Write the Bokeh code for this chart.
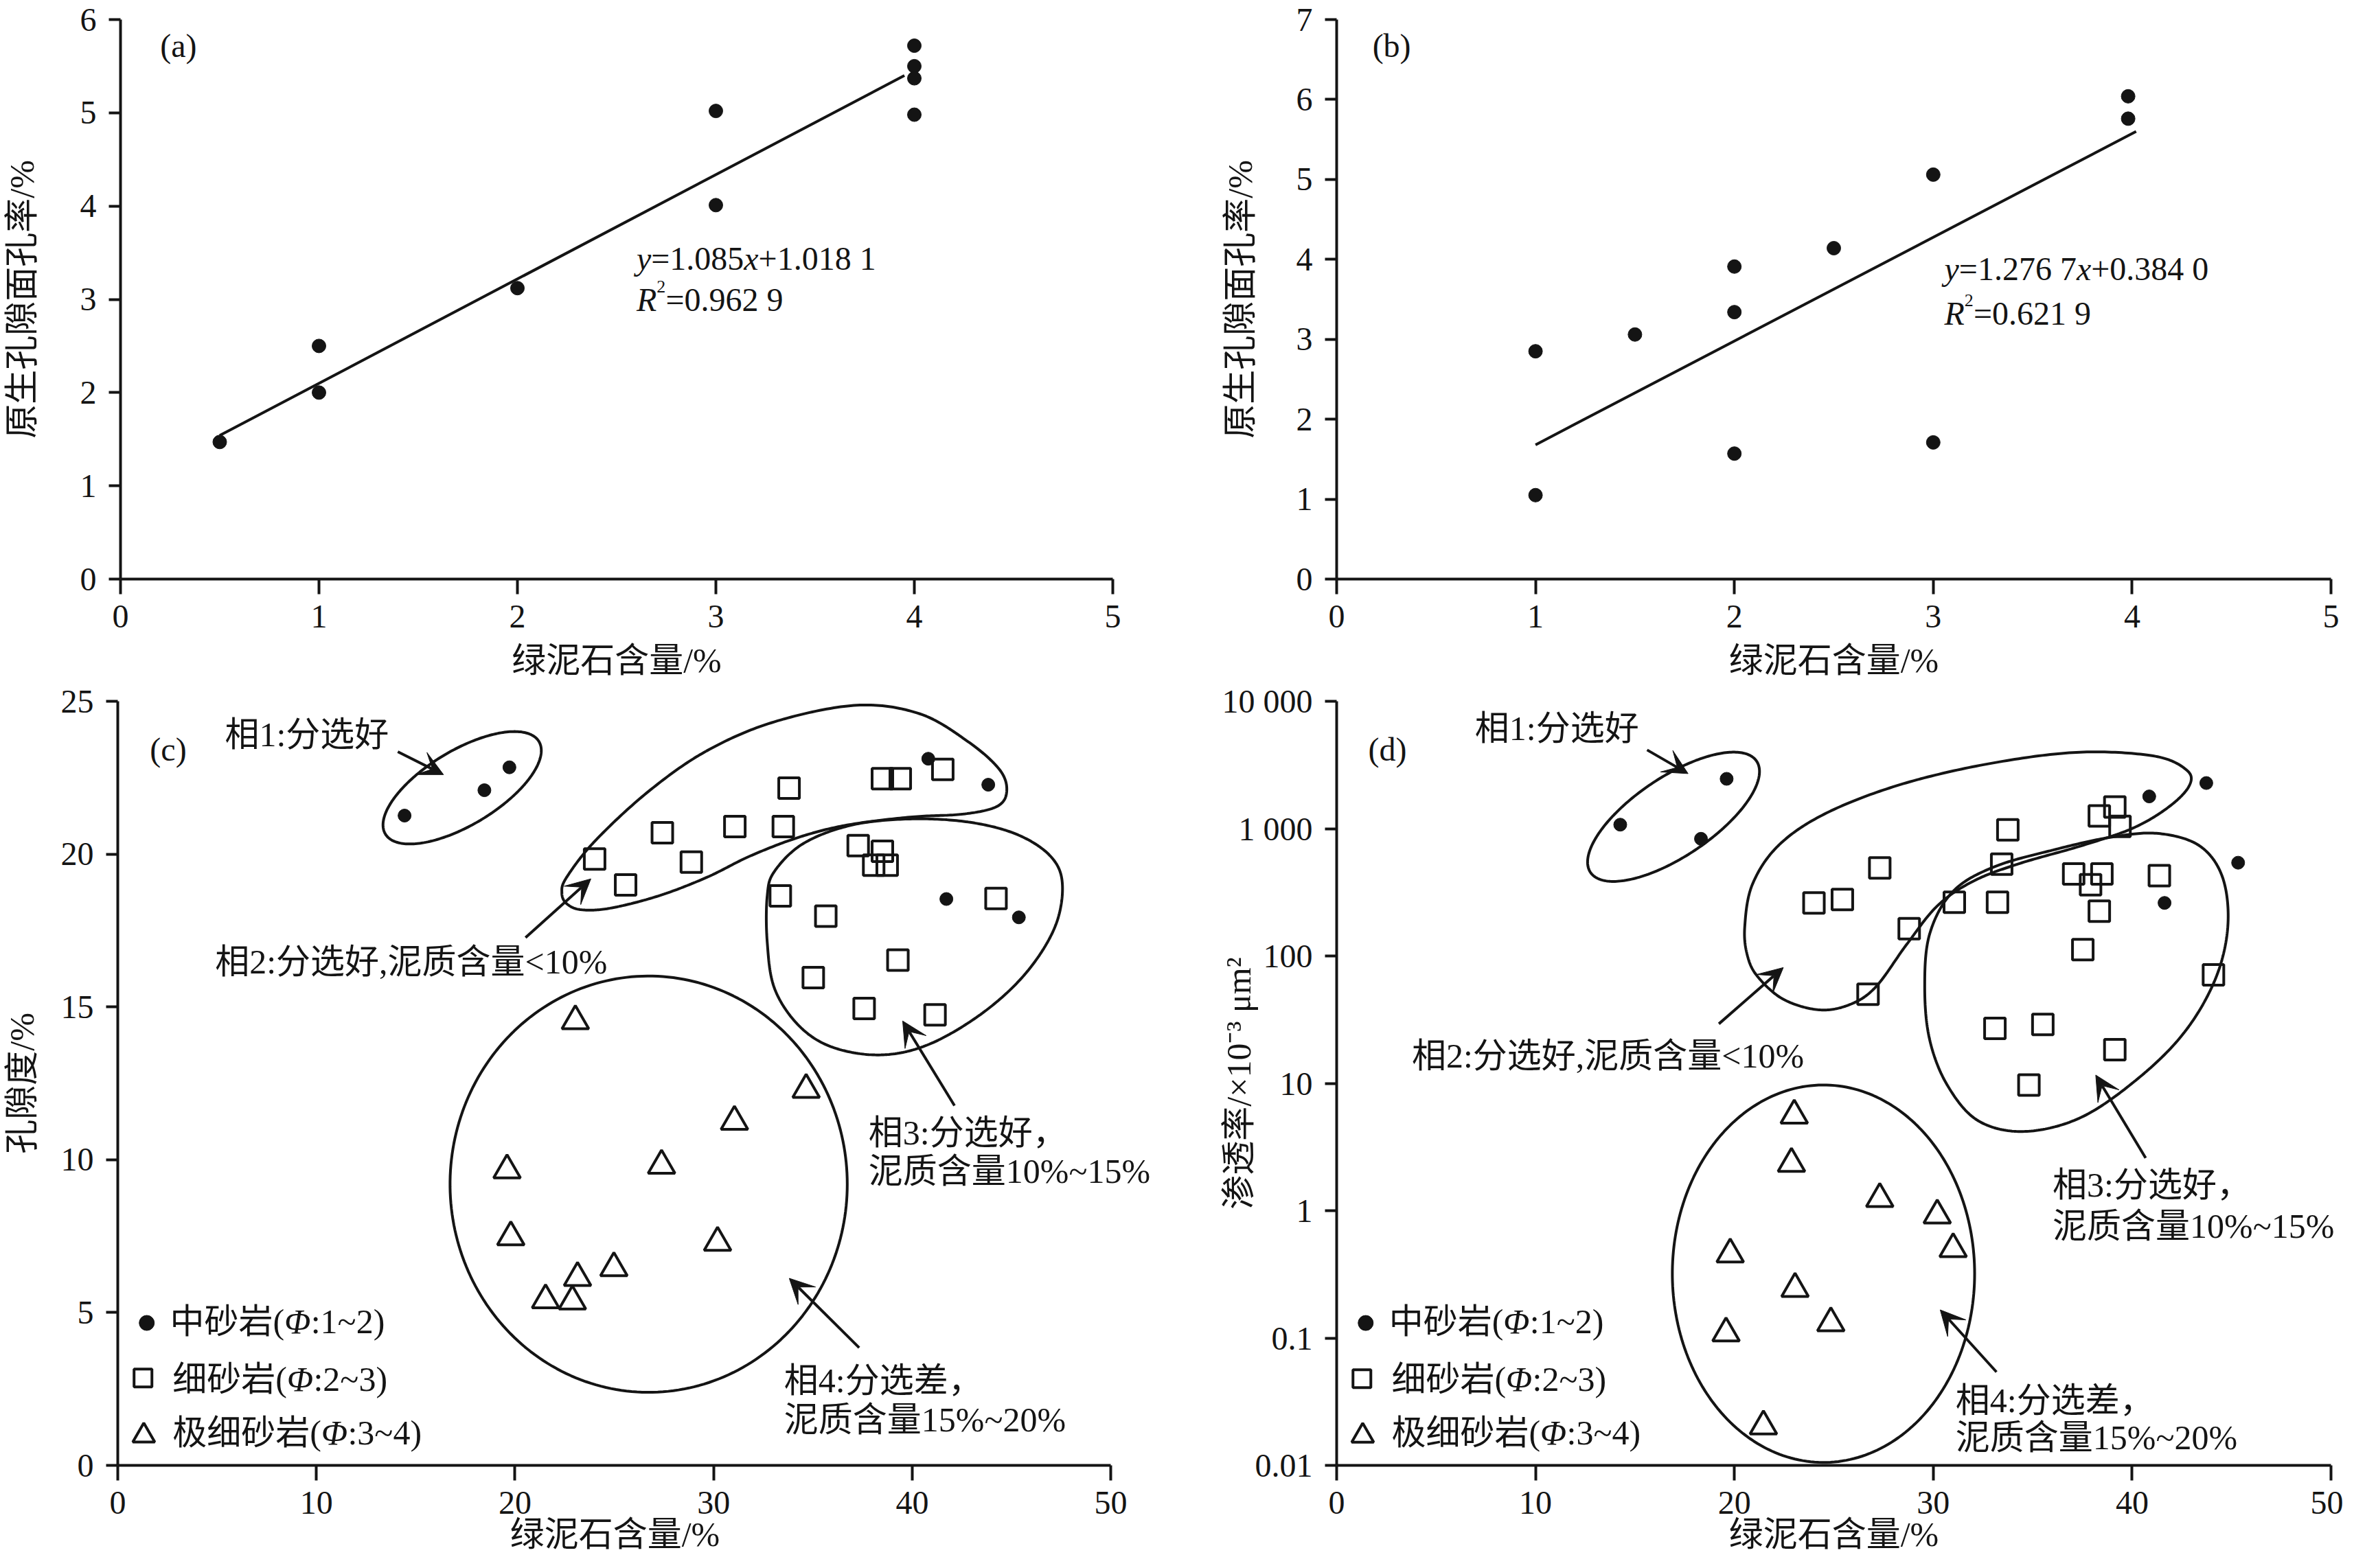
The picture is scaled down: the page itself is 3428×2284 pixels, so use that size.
import numpy as np
from bokeh.plotting import figure
from bokeh.layouts import column, row
from bokeh.models import (Range1d, FixedTicker, Label, Arrow, VeeHead, Title,
                          CustomJSTickFormatter)
from bokeh.embed import file_html
from bokeh.resources import INLINE

# ------------------------------------------------------------------ data
# panel (a)
a_x = [0.5, 1.0, 1.0, 2.0, 3.0, 3.0, 4.0, 4.0, 4.0, 4.0]
a_y = [1.47, 2.50, 2.00, 3.12, 5.02, 4.01, 5.72, 5.50, 5.37, 4.98]
a_fit_x = [0.5, 3.95]
a_fit_y = [1.54, 5.40]
a_xticks = [0, 1, 2, 3, 4, 5]
a_yticks = [0, 1, 2, 3, 4, 5, 6]

# panel (b)
b_x = [1.0, 1.0, 1.5, 2.0, 2.0, 2.0, 2.5, 3.0, 3.0, 3.98, 3.98]
b_y = [2.85, 1.05, 3.06, 3.91, 3.34, 1.57, 4.14, 5.06, 1.71, 6.04, 5.76]
b_fit_x = [1.0, 4.02]
b_fit_y = [1.68, 5.60]
b_xticks = [0, 1, 2, 3, 4, 5]
b_yticks = [0, 1, 2, 3, 4, 5, 6, 7]

# panel (c)  porosity vs chlorite
c_med_x = [14.44, 18.46, 19.72, 40.81, 43.83, 41.72, 45.37]
c_med_y = [21.26, 22.09, 22.84, 23.12, 22.27, 18.53, 17.93]
c_fine_x = [24.01, 25.57, 27.42, 28.88, 31.07, 33.51, 33.80, 33.36, 37.28, 38.50,
            38.06, 38.74, 38.50, 39.40, 41.54, 44.22, 35.65, 35.02, 39.28, 37.58, 41.15]
c_fine_y = [19.84, 18.99, 20.70, 19.74, 20.90, 20.90, 22.16, 18.63, 20.28, 20.09,
            19.64, 19.64, 22.47, 22.47, 22.77, 18.55, 17.97, 15.96, 16.53, 14.95, 14.74]
c_vf_x = [23.04, 34.66, 31.05, 19.60, 27.38, 19.79, 30.20, 24.98, 23.15, 21.54, 22.89]
c_vf_y = [14.54, 12.29, 11.25, 9.66, 9.81, 7.47, 7.29, 6.46, 6.14, 5.41, 5.37]
c_xticks = [0, 10, 20, 30, 40, 50]
c_yticks = [0, 5, 10, 15, 20, 25]

# panel (d)  permeability vs chlorite
d_med_x = [14.26, 18.32, 19.61, 40.86, 43.73, 45.33, 41.63]
d_med_y = [1074, 832, 2460, 1790, 2280, 540, 261]
d_fine_x = [24.00, 25.43, 27.31, 28.79, 26.72, 31.06, 33.23, 33.44, 33.75, 37.06, 37.91, 38.48,
            38.35, 39.13, 39.39, 38.35, 37.52, 41.37, 44.09, 33.10, 35.51, 39.13, 34.81]
d_fine_y = [261, 278, 491, 164, 50, 264, 264, 526, 977, 441, 363, 441,
            1260, 1480, 1040, 225, 112, 427, 71, 27, 29, 18.4, 9.7]
d_vf_x = [23.01, 22.87, 27.31, 30.20, 31.00, 19.79, 23.05, 24.85, 19.58, 21.46]
d_vf_y = [5.6, 2.34, 1.24, 0.92, 0.50, 0.455, 0.244, 0.131, 0.109, 0.0203]
d_xticks = [0, 10, 20, 30, 40, 50]
d_yticks = [0.01, 0.1, 1, 10, 100, 1000, 10000]
d_ytick_labels = ["0.01", "0.1", "1", "10", "100", "1 000", "10 000"]

# texts
x_title = "绿泥石含量/%"
a_ytitle = "原生孔隙面孔率/%"
c_ytitle = "孔隙度/%"
d_ytitle = "渗透率/×10⁻³ μm²"
facies = ["相1:分选好", "相2:分选好,泥质含量<10%", "相3:分选好，", "泥质含量10%~15%",
          "相4:分选差，", "泥质含量15%~20%"]
legend_names = [("中砂岩(", ":1~2)"), ("细砂岩(", ":2~3)"), ("极细砂岩(", ":3~4)")]

# facies outlines (annotation shapes) -------------------------------
# (c)
c_f1 = dict(c=(17.34, 22.17), A=(3.87, 1.51), B=(0.95, -1.05))
c_f4 = dict(c=(26.73, 9.2), A=(10.0, 0.0), B=(0.0, 6.81))
c_f2_x = [22.36, 22.6, 24.06, 26.74, 29.66, 33.07, 37.21, 40.38, 42.81, 44.39, 44.76, 44.27,
          42.57, 39.89, 36.72, 34.29, 31.85, 29.66, 27.22, 24.79, 23.33, 22.6]
c_f2_y = [18.73, 19.24, 20.45, 22.06, 23.38, 24.33, 24.87, 24.59, 23.68, 22.77, 22.06, 21.56,
          21.31, 21.21, 20.95, 20.55, 19.94, 19.24, 18.63, 18.23, 18.18, 18.38]
c_f3_x = [32.7, 33.07, 34.53, 36.96, 39.89, 42.81, 45.25, 46.95, 47.56, 47.19, 45.73, 43.54,
          40.86, 38.43, 35.99, 34.29, 33.07, 32.7]
c_f3_y = [18.63, 19.44, 20.35, 20.95, 21.15, 21.05, 20.65, 19.94, 19.03, 17.62, 16.11, 14.8,
          13.78, 13.43, 13.68, 14.39, 15.6, 17.12]
# (d)  (y as log10 of permeability)
d_f1 = dict(c=(16.94, 3.093), A=(4.18, 0.436), B=(1.1, -0.26))
d_f4 = dict(c=(24.48, -0.495), A=(7.6, 0.0), B=(0.0, 1.482))
d_f2_x = [20.52, 20.9, 22.2, 24.52, 28.14, 32.53, 37.19, 41.06, 42.74, 42.87, 41.84, 40.03,
          37.44, 34.34, 32.02, 30.21, 28.66, 27.11, 25.81, 24.26, 22.46, 21.16, 20.65]
d_f2_logk = [2.228, 2.56, 2.865, 3.114, 3.336, 3.502, 3.599, 3.571, 3.46, 3.336, 3.17, 3.003,
             2.865, 2.726, 2.588, 2.394, 2.09, 1.757, 1.619, 1.577, 1.66, 1.84, 2.006]
d_f3_x = [29.57, 29.82, 30.98, 33.05, 36.15, 38.99, 41.32, 43.39, 44.55, 44.81, 44.17, 42.61,
          40.29, 37.44, 34.6, 32.27, 30.72, 29.82]
d_f3_logk = [1.757, 2.173, 2.505, 2.699, 2.837, 2.934, 2.962, 2.865, 2.616, 2.228, 1.813, 1.397,
             1.037, 0.733, 0.622, 0.705, 0.982, 1.342]

# ------------------------------------------------------------------ style
FONT = "Liberation Serif, Noto Sans CJK SC"
BLK = "#141414"
TICK_FS = "48px"
LAB_FS = "50px"
TXT = 50
X_LABEL_STANDOFF = 16
X_AXLABEL_STANDOFF = 17     # top row (axis label)
X_TITLE_STANDOFF = -6       # bottom row (title used as axis label)

WID = {".": 0.25, "=": 0.564, "+": 0.564, " ": 0.25, "(": 0.333, ")": 0.333,
       ":": 0.278, "~": 0.541, "%": 0.833, "<": 0.564, ",": 0.25, "/": 0.278,
       "x": 0.444, "y": 0.444, "R": 0.611, "Φ": 0.77}


def text_w(s, size):
    w = 0.0
    for ch in s:
        if ord(ch) > 0x2E80:
            w += 1.0
        elif ch.isdigit():
            w += 0.5
        else:
            w += WID.get(ch, 0.5)
    return w * size


def rich(p, x, y, pieces, size, baseline="alphabetic"):
    off = 0.0
    for txt, italic, rise, scale in pieces:
        fs = size * scale
        p.add_layout(Label(x=x, y=y, x_offset=off, y_offset=rise, text=txt,
                           text_font=FONT, text_font_size=f"{fs:.0f}px",
                           text_font_style="italic" if italic else "normal",
                           text_baseline=baseline, text_align="left", text_color=BLK))
        off += text_w(txt, fs)


def label(p, x, y, txt, size=TXT, baseline="middle"):
    p.add_layout(Label(x=x, y=y, text=txt, text_font=FONT, text_font_size=f"{size}px",
                       text_baseline=baseline, text_align="left", text_color=BLK))


def arrow(p, xs, ys, xe, ye):
    p.add_layout(Arrow(end=VeeHead(size=36, fill_color=BLK, line_color=BLK, line_width=1),
                       x_start=xs, y_start=ys, x_end=xe, y_end=ye,
                       line_width=4, line_color=BLK))


def closed_spline(px, py, n=24):
    P = np.column_stack([px, py]).astype(float)
    m = len(P)
    t = np.linspace(0, 1, n, endpoint=False)[:, None]
    segs = []
    for i in range(m):
        p0, p1, p2, p3 = P[(i - 1) % m], P[i], P[(i + 1) % m], P[(i + 2) % m]
        segs.append(0.5 * (2 * p1 + (-p0 + p2) * t + (2 * p0 - 5 * p1 + 4 * p2 - p3) * t ** 2
                           + (-p0 + 3 * p1 - 3 * p2 + p3) * t ** 3))
    out = np.vstack(segs + [segs[0][:1]])
    return out[:, 0], out[:, 1]


def ellipse(e, n=240):
    t = np.linspace(0, 2 * np.pi, n)
    x = e["c"][0] + e["A"][0] * np.cos(t) + e["B"][0] * np.sin(t)
    y = e["c"][1] + e["A"][1] * np.cos(t) + e["B"][1] * np.sin(t)
    return x, y


def make_fig(w, h, xr, yr, mb, xticks, yticks, y_type="linear", xbounds=None):
    p = figure(width=w, height=h, x_range=Range1d(*xr), y_range=Range1d(*yr),
               y_axis_type=y_type, output_backend="svg", toolbar_location=None,
               min_border_left=mb[0], min_border_right=mb[1],
               min_border_top=mb[2], min_border_bottom=mb[3])
    p.outline_line_color = None
    p.xgrid.visible = False
    p.ygrid.visible = False
    for ax in (p.xaxis[0], p.yaxis[0]):
        ax.axis_line_width = 4
        ax.axis_line_color = BLK
        ax.major_tick_line_width = 4
        ax.major_tick_line_color = BLK
        ax.major_tick_in = 0
        ax.minor_tick_line_color = None
        ax.major_label_text_font = FONT
        ax.major_label_text_font_size = TICK_FS
        ax.major_label_text_color = BLK
        ax.axis_label_text_font = FONT
        ax.axis_label_text_font_size = LAB_FS
        ax.axis_label_text_font_style = "normal"
        ax.axis_label_text_color = BLK
    p.xaxis.major_tick_out = 22
    p.yaxis.major_tick_out = 17
    p.xaxis.major_label_standoff = X_LABEL_STANDOFF
    p.yaxis.major_label_standoff = 18
    p.xaxis.ticker = FixedTicker(ticks=xticks)
    p.yaxis.ticker = FixedTicker(ticks=yticks)
    if xbounds is None:
        p.xaxis.axis_label = x_title
        p.xaxis.axis_label_standoff = X_AXLABEL_STANDOFF
    else:
        p.xaxis.bounds = xbounds
    return p


AX_W = 1448   # pixel length of the 0..5 / 0..50 x axes


def x_title_below(p):
    # x-axis title centred under the bounded (0..50) axis, not the wider frame
    off = AX_W / 2 - text_w(x_title, TXT) / 2
    p.add_layout(Title(text=x_title, align="left", offset=off, standoff=X_TITLE_STANDOFF,
                       text_font=FONT, text_font_size=LAB_FS, text_font_style="normal",
                       text_color=BLK), "below")


def eq(p, x, y1, y2, slope, icpt, r2):
    rich(p, x, y1, [("y", True, 0, 1), ("=" + slope, False, 0, 1), ("x", True, 0, 1),
                    ("+" + icpt, False, 0, 1)], 48)
    rich(p, x, y2, [("R", True, 0, 1), ("2", False, 19, 0.55), ("=" + r2, False, 0, 1)], 48)


TOP_H, BOT_H = 993, 1275
TOP_MB, BOT_MB = (28, 150), (28, 134)

# ------------------------------------------------------------------ (a)
pa = make_fig(1706, TOP_H, (0, 5), (0, 6), (172, 86) + TOP_MB, a_xticks, a_yticks)
pa.yaxis.axis_label = a_ytitle
pa.yaxis.axis_label_standoff = 54
pa.line(a_fit_x, a_fit_y, line_color=BLK, line_width=4)
pa.scatter(a_x, a_y, marker="circle", size=20, fill_color=BLK, line_color=BLK)
label(pa, 0.2, 5.72, "(a)", 48)
eq(pa, 2.60, 3.44, 3.0, "1.085", "1.018 1", "0.962 9")

# ------------------------------------------------------------------ (b)
pb = make_fig(1706, TOP_H, (0, 5), (0, 7), (240, 18) + TOP_MB, b_xticks, b_yticks)
pb.yaxis.axis_label = a_ytitle
pb.yaxis.axis_label_standoff = 51
pb.line(b_fit_x, b_fit_y, line_color=BLK, line_width=4)
pb.scatter(b_x, b_y, marker="circle", size=20, fill_color=BLK, line_color=BLK)
label(pb, 0.18, 6.67, "(b)", 48)
eq(pb, 3.056, 3.88, 3.32, "1.276 7", "0.384 0", "0.621 9")


def legend(p, xm, ys, xt, yt):
    p.scatter([xm[0]], [ys[0]], marker="circle", size=22, fill_color=BLK, line_color=BLK)
    p.scatter([xm[1]], [ys[1]], marker="square", size=26, fill_color=None, line_color=BLK,
              line_width=4)
    p.scatter([xm[2]], [ys[2]], marker="triangle", size=32, fill_color=None, line_color=BLK,
              line_width=4)
    for (pre, post), xx, yy in zip(legend_names, xt, yt):
        rich(p, xx, yy, [(pre, False, 0, 1), ("Φ", True, 0, 1), (post, False, 0, 1)],
             TXT, baseline="middle")


# ------------------------------------------------------------------ (c)
# frame runs to the figure's right edge so that the facies text is not clipped;
# the axis itself is bounded at 0..50 (AX_W px)
C_LEFT = 169
C_FRAME_W = 1706 - C_LEFT
pc = make_fig(1706, BOT_H, (0, 50 * C_FRAME_W / AX_W), (0, 25), (C_LEFT, 0) + BOT_MB,
              c_xticks, c_yticks, xbounds=(0, 50))
x_title_below(pc)
pc.yaxis.axis_label = c_ytitle
pc.yaxis.axis_label_standoff = 26
for xs, ys in (ellipse(c_f1), ellipse(c_f4), closed_spline(c_f2_x, c_f2_y),
               closed_spline(c_f3_x, c_f3_y)):
    pc.line(xs, ys, line_color=BLK, line_width=4)
pc.scatter(c_med_x, c_med_y, marker="circle", size=19, fill_color=BLK, line_color=BLK)
pc.scatter(c_fine_x, c_fine_y, marker="square", size=30, fill_color=None, line_color=BLK,
           line_width=4)
pc.scatter(c_vf_x, c_vf_y, marker="triangle", size=39, fill_color=None, line_color=BLK,
           line_width=4)
label(pc, 1.62, 23.42, "(c)", 48)
label(pc, 5.39, 23.90, facies[0])
label(pc, 4.90, 16.48, facies[1])
label(pc, 37.8, 10.88, facies[2])
label(pc, 37.8, 9.62, facies[3])
label(pc, 33.55, 2.78, facies[4])
label(pc, 33.55, 1.50, facies[5])
arrow(pc, 14.1, 23.35, 16.4, 22.6)
arrow(pc, 20.53, 17.27, 23.82, 19.19)
arrow(pc, 42.13, 11.77, 39.52, 14.54)
arrow(pc, 37.33, 3.85, 33.81, 6.12)
legend(pc, (1.46, 1.27, 1.31), (4.66, 2.86, 0.97), (2.63, 2.76, 2.76), (4.70, 2.82, 1.06))

# ------------------------------------------------------------------ (d)
D_LEFT = 240
D_FRAME_W = 1706 - D_LEFT
pd = make_fig(1706, BOT_H, (0, 50 * D_FRAME_W / AX_W), (0.01, 10000), (D_LEFT, 0) + BOT_MB,
              d_xticks, d_yticks, y_type="log", xbounds=(0, 50))
x_title_below(pd)
pd.yaxis.axis_label = d_ytitle
pd.yaxis.axis_label_standoff = -55
pd.yaxis.formatter = CustomJSTickFormatter(args=dict(vals=d_yticks, labs=d_ytick_labels), code="""
for (let i = 0; i < vals.length; i++) {
  if (Math.abs(Math.log10(tick) - Math.log10(vals[i])) < 1e-6) { return labs[i]; }
}
return "";
""")
for xs, ys in (ellipse(d_f1), ellipse(d_f4), closed_spline(d_f2_x, d_f2_logk),
               closed_spline(d_f3_x, d_f3_logk)):
    pd.line(xs, 10 ** ys, line_color=BLK, line_width=4)
pd.scatter(d_med_x, d_med_y, marker="circle", size=19, fill_color=BLK, line_color=BLK)
pd.scatter(d_fine_x, d_fine_y, marker="square", size=30, fill_color=None, line_color=BLK,
           line_width=4)
pd.scatter(d_vf_x, d_vf_y, marker="triangle", size=39, fill_color=None, line_color=BLK,
           line_width=4)
label(pd, 1.59, 10 ** 3.621, "(d)", 48)
label(pd, 6.95, 10 ** 3.785, facies[0])
label(pd, 3.78, 10 ** 1.217, facies[1])
label(pd, 36.0, 10 ** 0.20, facies[2])
label(pd, 36.0, 10 ** -0.12, facies[3])
label(pd, 31.12, 10 ** -1.49, facies[4])
label(pd, 31.12, 10 ** -1.78, facies[5])
arrow(pd, 15.61, 10 ** 3.618, 17.67, 10 ** 3.432)
arrow(pd, 19.22, 10 ** 1.467, 22.46, 10 ** 1.909)
arrow(pd, 40.68, 10 ** 0.414, 38.17, 10 ** 1.065)
arrow(pd, 33.18, 10 ** -1.267, 30.35, 10 ** -0.779)
legend(pd, (1.46, 1.27, 1.31), (10 ** -0.882, 10 ** -1.32, 10 ** -1.768),
       (2.63, 2.76, 2.76), (10 ** -0.871, 10 ** -1.325, 10 ** -1.746))

layout = column(row(pa, pb), row(pc, pd))
open("out.html", "w").write(file_html(layout, INLINE))
